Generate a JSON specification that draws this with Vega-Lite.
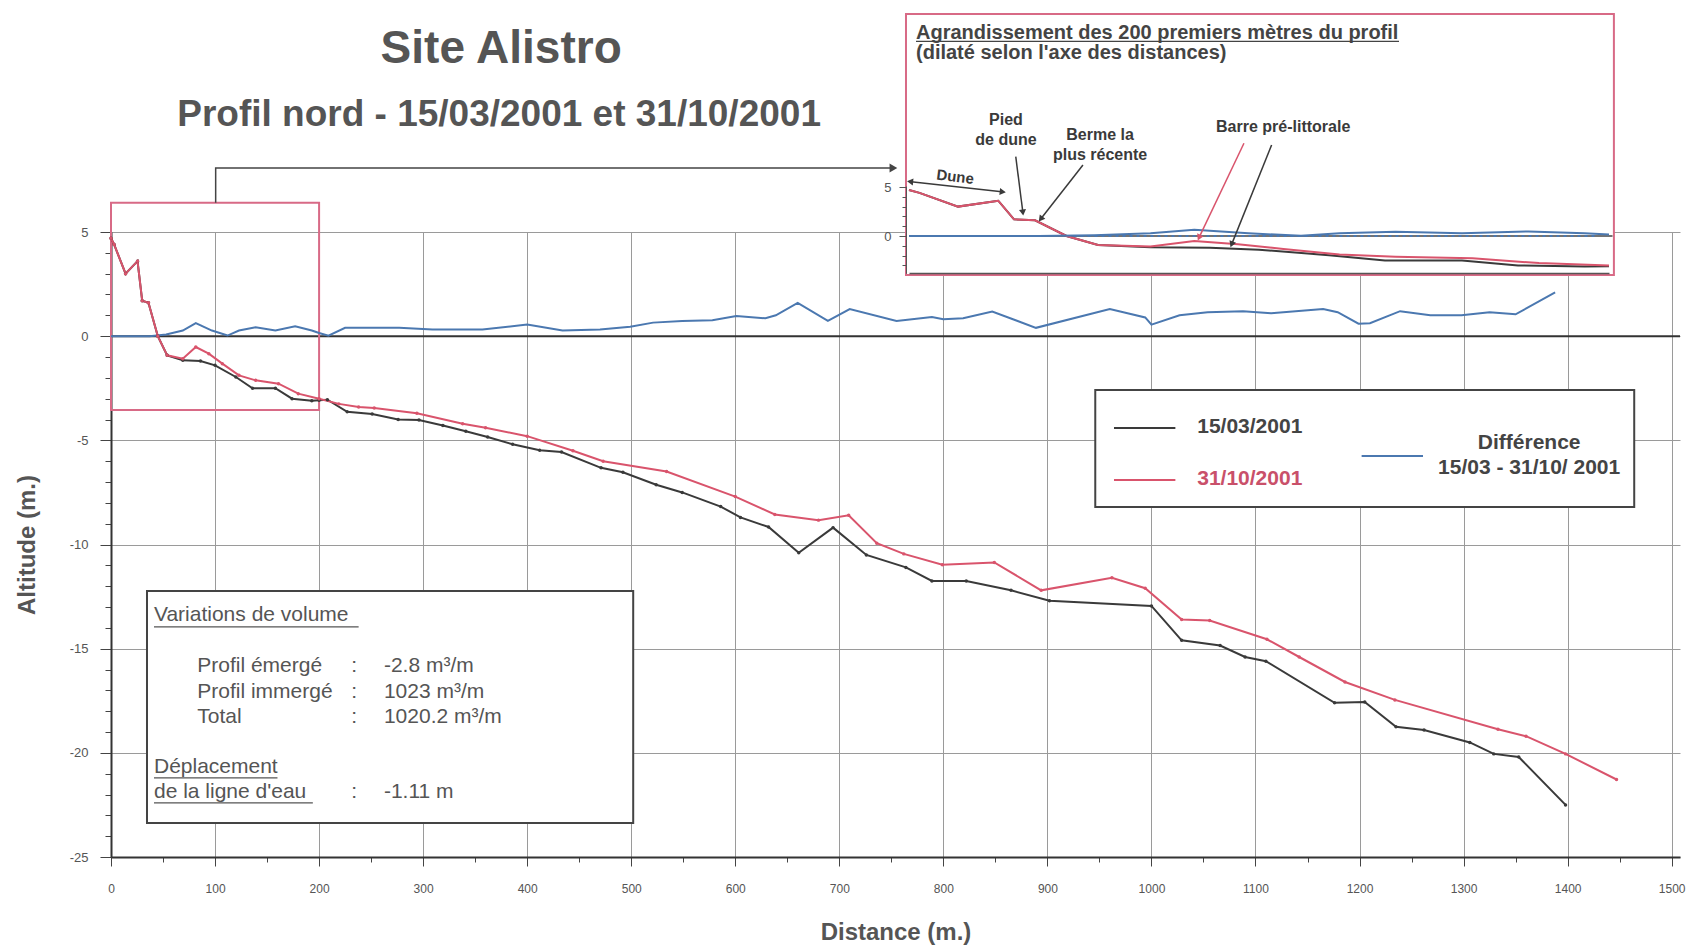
{
"$schema": "https://vega.github.io/schema/vega-lite/v6.json",
"width": 1569, "height": 625,
"autosize": "none",
"padding": {"left": 111, "top": 232, "right": 11, "bottom": 88},
"background": "white",
"config": {"font": "Liberation Sans", "view": {"stroke": null}, "axis": {"labelFont": "Liberation Sans", "titleFont": "Liberation Sans"}},
"datasets": {
"profile": [
{"serie":"15/03/2001","distance":0,"altitude":4.7},{"serie":"15/03/2001","distance":3,"altitude":4.4},{"serie":"15/03/2001","distance":14,"altitude":3.0},{"serie":"15/03/2001","distance":25.5,"altitude":3.6},{"serie":"15/03/2001","distance":30,"altitude":1.7},{"serie":"15/03/2001","distance":36,"altitude":1.6},{"serie":"15/03/2001","distance":45,"altitude":0.0},{"serie":"15/03/2001","distance":54,"altitude":-0.92},{"serie":"15/03/2001","distance":69,"altitude":-1.16},{"serie":"15/03/2001","distance":86,"altitude":-1.19},{"serie":"15/03/2001","distance":100,"altitude":-1.4},{"serie":"15/03/2001","distance":120,"altitude":-1.96},{"serie":"15/03/2001","distance":136,"altitude":-2.5},{"serie":"15/03/2001","distance":158,"altitude":-2.5},{"serie":"15/03/2001","distance":174,"altitude":-3.0},{"serie":"15/03/2001","distance":193,"altitude":-3.1},{"serie":"15/03/2001","distance":200,"altitude":-3.08},{"serie":"15/03/2001","distance":208,"altitude":-3.05},{"serie":"15/03/2001","distance":227,"altitude":-3.63},{"serie":"15/03/2001","distance":251,"altitude":-3.74},{"serie":"15/03/2001","distance":276,"altitude":-4.0},{"serie":"15/03/2001","distance":296,"altitude":-4.02},{"serie":"15/03/2001","distance":319,"altitude":-4.29},{"serie":"15/03/2001","distance":341,"altitude":-4.56},{"serie":"15/03/2001","distance":362,"altitude":-4.84},{"serie":"15/03/2001","distance":386,"altitude":-5.19},{"serie":"15/03/2001","distance":412,"altitude":-5.48},{"serie":"15/03/2001","distance":433,"altitude":-5.56},{"serie":"15/03/2001","distance":471,"altitude":-6.32},{"serie":"15/03/2001","distance":492,"altitude":-6.53},{"serie":"15/03/2001","distance":524,"altitude":-7.13},{"serie":"15/03/2001","distance":549,"altitude":-7.5},{"serie":"15/03/2001","distance":586,"altitude":-8.18},{"serie":"15/03/2001","distance":605,"altitude":-8.7},{"serie":"15/03/2001","distance":632,"altitude":-9.16},{"serie":"15/03/2001","distance":661,"altitude":-10.4},{"serie":"15/03/2001","distance":694,"altitude":-9.19},{"serie":"15/03/2001","distance":726,"altitude":-10.5},{"serie":"15/03/2001","distance":764,"altitude":-11.1},{"serie":"15/03/2001","distance":789,"altitude":-11.75},{"serie":"15/03/2001","distance":822,"altitude":-11.75},{"serie":"15/03/2001","distance":865,"altitude":-12.2},{"serie":"15/03/2001","distance":902,"altitude":-12.7},{"serie":"15/03/2001","distance":1000,"altitude":-12.95},{"serie":"15/03/2001","distance":1029,"altitude":-14.6},{"serie":"15/03/2001","distance":1066,"altitude":-14.85},{"serie":"15/03/2001","distance":1090,"altitude":-15.4},{"serie":"15/03/2001","distance":1110,"altitude":-15.6},{"serie":"15/03/2001","distance":1176,"altitude":-17.6},{"serie":"15/03/2001","distance":1205,"altitude":-17.56},{"serie":"15/03/2001","distance":1235,"altitude":-18.75},{"serie":"15/03/2001","distance":1262,"altitude":-18.9},{"serie":"15/03/2001","distance":1306,"altitude":-19.5},{"serie":"15/03/2001","distance":1329,"altitude":-20.05},{"serie":"15/03/2001","distance":1353,"altitude":-20.2},{"serie":"15/03/2001","distance":1398,"altitude":-22.5},
{"serie":"31/10/2001","distance":0,"altitude":4.7},{"serie":"31/10/2001","distance":3,"altitude":4.4},{"serie":"31/10/2001","distance":14,"altitude":3.0},{"serie":"31/10/2001","distance":25.5,"altitude":3.6},{"serie":"31/10/2001","distance":30,"altitude":1.7},{"serie":"31/10/2001","distance":36,"altitude":1.6},{"serie":"31/10/2001","distance":45,"altitude":0.0},{"serie":"31/10/2001","distance":54,"altitude":-0.92},{"serie":"31/10/2001","distance":69,"altitude":-1.08},{"serie":"31/10/2001","distance":81.5,"altitude":-0.52},{"serie":"31/10/2001","distance":94,"altitude":-0.84},{"serie":"31/10/2001","distance":107,"altitude":-1.32},{"serie":"31/10/2001","distance":123,"altitude":-1.88},{"serie":"31/10/2001","distance":139,"altitude":-2.12},{"serie":"31/10/2001","distance":161,"altitude":-2.28},{"serie":"31/10/2001","distance":180,"altitude":-2.76},{"serie":"31/10/2001","distance":200,"altitude":-3.0},{"serie":"31/10/2001","distance":219,"altitude":-3.25},{"serie":"31/10/2001","distance":238,"altitude":-3.4},{"serie":"31/10/2001","distance":253,"altitude":-3.45},{"serie":"31/10/2001","distance":294,"altitude":-3.7},{"serie":"31/10/2001","distance":338,"altitude":-4.2},{"serie":"31/10/2001","distance":360,"altitude":-4.4},{"serie":"31/10/2001","distance":400,"altitude":-4.8},{"serie":"31/10/2001","distance":444,"altitude":-5.5},{"serie":"31/10/2001","distance":473,"altitude":-6.0},{"serie":"31/10/2001","distance":534,"altitude":-6.5},{"serie":"31/10/2001","distance":600,"altitude":-7.7},{"serie":"31/10/2001","distance":638,"altitude":-8.56},{"serie":"31/10/2001","distance":680,"altitude":-8.83},{"serie":"31/10/2001","distance":709,"altitude":-8.6},{"serie":"31/10/2001","distance":736,"altitude":-9.94},{"serie":"31/10/2001","distance":762,"altitude":-10.45},{"serie":"31/10/2001","distance":799,"altitude":-10.97},{"serie":"31/10/2001","distance":849,"altitude":-10.86},{"serie":"31/10/2001","distance":894,"altitude":-12.2},{"serie":"31/10/2001","distance":962,"altitude":-11.6},{"serie":"31/10/2001","distance":994,"altitude":-12.1},{"serie":"31/10/2001","distance":1029,"altitude":-13.6},{"serie":"31/10/2001","distance":1056,"altitude":-13.65},{"serie":"31/10/2001","distance":1111,"altitude":-14.55},{"serie":"31/10/2001","distance":1142,"altitude":-15.4},{"serie":"31/10/2001","distance":1186,"altitude":-16.6},{"serie":"31/10/2001","distance":1234,"altitude":-17.46},{"serie":"31/10/2001","distance":1333,"altitude":-18.87},{"serie":"31/10/2001","distance":1360,"altitude":-19.2},{"serie":"31/10/2001","distance":1398,"altitude":-20.05},{"serie":"31/10/2001","distance":1447,"altitude":-21.28},
{"serie":"Différence","distance":0,"altitude":0},{"serie":"Différence","distance":37,"altitude":0},{"serie":"Différence","distance":53,"altitude":0.08},{"serie":"Différence","distance":69,"altitude":0.27},{"serie":"Différence","distance":81.5,"altitude":0.63},{"serie":"Différence","distance":97,"altitude":0.27},{"serie":"Différence","distance":112,"altitude":0.03},{"serie":"Différence","distance":123,"altitude":0.27},{"serie":"Différence","distance":139,"altitude":0.43},{"serie":"Différence","distance":158,"altitude":0.27},{"serie":"Différence","distance":177,"altitude":0.47},{"serie":"Différence","distance":193,"altitude":0.27},{"serie":"Différence","distance":200,"altitude":0.15},{"serie":"Différence","distance":209,"altitude":0.02},{"serie":"Différence","distance":225,"altitude":0.4},{"serie":"Différence","distance":238,"altitude":0.4},{"serie":"Différence","distance":277,"altitude":0.4},{"serie":"Différence","distance":309,"altitude":0.32},{"serie":"Différence","distance":357,"altitude":0.32},{"serie":"Différence","distance":400,"altitude":0.56},{"serie":"Différence","distance":434,"altitude":0.27},{"serie":"Différence","distance":470,"altitude":0.32},{"serie":"Différence","distance":499,"altitude":0.45},{"serie":"Différence","distance":521,"altitude":0.65},{"serie":"Différence","distance":549,"altitude":0.73},{"serie":"Différence","distance":578,"altitude":0.76},{"serie":"Différence","distance":601,"altitude":0.97},{"serie":"Différence","distance":629,"altitude":0.86},{"serie":"Différence","distance":639,"altitude":1.0},{"serie":"Différence","distance":660,"altitude":1.6},{"serie":"Différence","distance":689,"altitude":0.73},{"serie":"Différence","distance":710,"altitude":1.3},{"serie":"Différence","distance":755,"altitude":0.73},{"serie":"Différence","distance":789,"altitude":0.92},{"serie":"Différence","distance":800,"altitude":0.81},{"serie":"Différence","distance":819,"altitude":0.86},{"serie":"Différence","distance":847,"altitude":1.18},{"serie":"Différence","distance":889,"altitude":0.4},{"serie":"Différence","distance":960,"altitude":1.3},{"serie":"Différence","distance":994,"altitude":0.9},{"serie":"Différence","distance":1000,"altitude":0.55},{"serie":"Différence","distance":1027,"altitude":1.0},{"serie":"Différence","distance":1054,"altitude":1.15},{"serie":"Différence","distance":1088,"altitude":1.2},{"serie":"Différence","distance":1115,"altitude":1.1},{"serie":"Différence","distance":1165,"altitude":1.3},{"serie":"Différence","distance":1179,"altitude":1.15},{"serie":"Différence","distance":1199,"altitude":0.6},{"serie":"Différence","distance":1210,"altitude":0.62},{"serie":"Différence","distance":1239,"altitude":1.2},{"serie":"Différence","distance":1268,"altitude":1.0},{"serie":"Différence","distance":1298,"altitude":1.0},{"serie":"Différence","distance":1325,"altitude":1.15},{"serie":"Différence","distance":1350,"altitude":1.05},{"serie":"Différence","distance":1388,"altitude":2.1}
]
},
"layer": [
{
"encoding": {
"x": {"field": "distance", "type": "quantitative", "scale": {"domain": [0, 1508], "nice": false, "zero": false},
 "axis": {"values": [0,50,100,150,200,250,300,350,400,450,500,550,600,650,700,750,800,850,900,950,1000,1050,1100,1150,1200,1250,1300,1350,1400,1450,1500],
  "labelExpr": "datum.value % 100 === 0 ? '' + datum.value : ''", "labelOverlap": false, "labelFlush": false,
  "grid": true, "gridColor": "#9a9a9a", "gridWidth": 1,
  "gridOpacity": {"condition": {"test": "datum.value % 100 === 0", "value": 1}, "value": 0},
  "tickSize": {"condition": {"test": "datum.value % 100 === 0", "value": 9}, "value": 5},
  "tickColor": "#444", "domainColor": "#333", "domainWidth": 2, "labelFontSize": 12, "labelColor": "#555", "labelPadding": 17,
  "title": "Distance (m.)", "titleFontSize": 24, "titleFontWeight": "bold", "titleColor": "#555", "titlePadding": 26}},
"y": {"field": "altitude", "type": "quantitative", "scale": {"domain": [-25, 5], "nice": false, "zero": false},
 "axis": {"values": [-25,-24,-23,-22,-21,-20,-19,-18,-17,-16,-15,-14,-13,-12,-11,-10,-9,-8,-7,-6,-5,-4,-3,-2,-1,0,1,2,3,4,5],
  "labelExpr": "datum.value % 5 === 0 ? '' + datum.value : ''", "labelOverlap": false, "labelFlush": false,
  "grid": true, "gridColor": "#9a9a9a", "gridWidth": 1,
  "gridOpacity": {"condition": {"test": "datum.value % 5 === 0", "value": 1}, "value": 0},
  "tickSize": {"condition": {"test": "datum.value % 5 === 0", "value": 11}, "value": 6},
  "tickColor": "#444", "domainColor": "#333", "domainWidth": 2, "labelFontSize": 13, "labelColor": "#555", "labelPadding": 12,
  "title": "Altitude (m.)", "titleFontSize": 24, "titleFontWeight": "bold", "titleColor": "#555", "titlePadding": 30}}
},
"layer": [
{"data": {"values": [{"distance": 375, "altitude": 13.11, "label": "Site Alistro"}]},
 "mark": {"type": "text", "fontSize": 46, "fontWeight": "bold", "color": "#555", "align": "center", "baseline": "alphabetic"},
 "encoding": {"text": {"field": "label"}}},
{"data": {"values": [{"distance": 373, "altitude": 10.09, "label": "Profil nord - 15/03/2001 et 31/10/2001"}]},
 "mark": {"type": "text", "fontSize": 37, "fontWeight": "bold", "color": "#555", "align": "center", "baseline": "alphabetic"},
 "encoding": {"text": {"field": "label"}}},
{"data": {"values": [{"distance": 0, "distance2": 1508, "altitude": 0}]},
 "mark": {"type": "rule", "color": "#333", "strokeWidth": 2},
 "encoding": {"x2": {"field": "distance2"}}},
{"data": {"values": [{"distance": 0, "distance2": 200, "altitude": -3.54, "altitude2": 6.41}]},
 "mark": {"type": "rect", "filled": false, "stroke": "#d86a86", "strokeWidth": 2},
 "encoding": {"x2": {"field": "distance2"}, "y2": {"field": "altitude2"}}},
{"data": {"values": [{"distance": 100.6, "altitude": 6.41, "step": 1}, {"distance": 100.6, "altitude": 8.07, "step": 2}, {"distance": 750, "altitude": 8.07, "step": 3}]},
 "mark": {"type": "line", "color": "#444", "strokeWidth": 1.5},
 "encoding": {"order": {"field": "step"}}},
{"data": {"values": [{"distance": 752, "altitude": 8.07}]},
 "mark": {"type": "point", "shape": "triangle-right", "filled": true, "size": 80, "color": "#444", "opacity": 1}},
{"data": {"name": "profile"},
 "transform": [{"filter": "datum.serie === 'Différence'"}],
 "mark": {"type": "line", "strokeWidth": 2},
 "encoding": {"color": {"field": "serie", "type": "nominal", "scale": {"domain": ["15/03/2001", "31/10/2001", "Différence"], "range": ["#3a3a3a", "#d9546c", "#4b78b0"]}, "legend": null}}},
{"data": {"name": "profile"},
 "transform": [{"filter": "datum.serie !== 'Différence'"}],
 "mark": {"type": "line", "strokeWidth": 2, "point": {"filled": true, "size": 12}},
 "encoding": {"color": {"field": "serie", "type": "nominal", "legend": null}}},
{"data": {"values": [{"distance": 946, "distance2": 1464, "altitude": -2.585, "altitude2": -8.2}]},
 "mark": {"type": "rect", "fill": "white", "stroke": "#444", "strokeWidth": 2},
 "encoding": {"x2": {"field": "distance2"}, "y2": {"field": "altitude2"}}},
{"data": {"values": [{"serie": "15/03/2001", "distance": 964, "distance2": 1023, "altitude": -4.41}, {"serie": "31/10/2001", "distance": 964, "distance2": 1023, "altitude": -6.9}, {"serie": "Différence", "distance": 1202, "distance2": 1261, "altitude": -5.75}]},
 "mark": {"type": "rule", "strokeWidth": 2},
 "encoding": {"x2": {"field": "distance2"}, "color": {"field": "serie", "type": "nominal", "legend": null}}},
{"data": {"values": [{"distance": 1044, "altitude": -4.35, "label": "15/03/2001"}]},
 "mark": {"type": "text", "fontSize": 21, "fontWeight": "bold", "color": "#444", "align": "left", "baseline": "middle"},
 "encoding": {"text": {"field": "label"}}},
{"data": {"values": [{"distance": 1044, "altitude": -6.85, "label": "31/10/2001"}]},
 "mark": {"type": "text", "fontSize": 21, "fontWeight": "bold", "color": "#c9506a", "align": "left", "baseline": "middle"},
 "encoding": {"text": {"field": "label"}}},
{"data": {"values": [{"distance": 1363, "altitude": -5.13, "label": "Différence"}, {"distance": 1363, "altitude": -6.33, "label": "15/03 - 31/10/ 2001"}]},
 "mark": {"type": "text", "fontSize": 21, "fontWeight": "bold", "color": "#444", "align": "center", "baseline": "middle"},
 "encoding": {"text": {"field": "label"}}},
{"data": {"values": [{"distance": 34.6, "distance2": 501.9, "altitude": -12.23, "altitude2": -23.37}]},
 "mark": {"type": "rect", "fill": "white", "stroke": "#444", "strokeWidth": 2},
 "encoding": {"x2": {"field": "distance2"}, "y2": {"field": "altitude2"}}},
{"data": {"values": [
 {"distance": 41.3, "altitude": -13.4, "label": "Variations de volume"},
 {"distance": 82.9, "altitude": -15.85, "label": "Profil émergé"},
 {"distance": 231, "altitude": -15.85, "label": ":"},
 {"distance": 262.3, "altitude": -15.85, "label": "-2.8 m³/m"},
 {"distance": 82.9, "altitude": -17.07, "label": "Profil immergé"},
 {"distance": 231, "altitude": -17.07, "label": ":"},
 {"distance": 262.3, "altitude": -17.07, "label": "1023 m³/m"},
 {"distance": 82.9, "altitude": -18.27, "label": "Total"},
 {"distance": 231, "altitude": -18.27, "label": ":"},
 {"distance": 262.3, "altitude": -18.27, "label": "1020.2 m³/m"},
 {"distance": 41.3, "altitude": -20.7, "label": "Déplacement"},
 {"distance": 41.3, "altitude": -21.9, "label": "de la ligne d'eau"},
 {"distance": 231, "altitude": -21.9, "label": ":"},
 {"distance": 262.3, "altitude": -21.9, "label": "-1.11 m"}]},
 "mark": {"type": "text", "fontSize": 21, "color": "#555", "align": "left", "baseline": "middle"},
 "encoding": {"text": {"field": "label"}}},
{"data": {"values": [{"distance": 41.3, "distance2": 238, "altitude": -13.95}, {"distance": 41.3, "distance2": 160, "altitude": -21.2}, {"distance": 41.3, "distance2": 194, "altitude": -22.4}]},
 "mark": {"type": "rule", "color": "#555", "strokeWidth": 1.3},
 "encoding": {"x2": {"field": "distance2"}}}
]
},
{
"encoding": {
"x": {"field": "distance", "type": "quantitative", "scale": {"domain": [0, 200], "range": [798, 1498], "nice": false, "zero": false},
 "axis": {"orient": "bottom", "offset": -584, "ticks": false, "labels": false, "grid": false, "title": null, "domainColor": "#555", "domainWidth": 1.5, "zindex": 1}},
"y": {"field": "altitude", "type": "quantitative", "scale": {"domain": [-3.8, 5.1], "range": [41.24, -45.98], "nice": false, "zero": false},
 "axis": {"orient": "left", "offset": -795, "values": [-3,-2,-1,0,1,2,3,4,5], "labelExpr": "datum.value === 5 || datum.value === 0 ? '' + datum.value : ''",
  "labelOverlap": false, "labelFlush": false, "grid": false, "title": null,
  "tickSize": {"condition": {"test": "datum.value % 5 === 0", "value": 7}, "value": 4},
  "tickColor": "#555", "domainColor": "#555", "labelFontSize": 13, "labelColor": "#555", "labelPadding": 8, "zindex": 1}}
},
"layer": [
{"data": {"values": [{"distance": -0.86, "distance2": 201.4, "altitude": -3.98, "altitude2": 22.65}]},
 "mark": {"type": "rect", "fill": "white", "stroke": "#d86a86", "strokeWidth": 2},
 "encoding": {"x2": {"field": "distance2"}, "y2": {"field": "altitude2"}}},
{"data": {"values": [{"distance": 0, "distance2": 201, "altitude": 0}]},
 "mark": {"type": "rule", "color": "#444", "strokeWidth": 1.5},
 "encoding": {"x2": {"field": "distance2"}}},
{"data": {"values": [{"distance": 45, "distance2": 197, "altitude": 0}]},
 "mark": {"type": "rule", "color": "#4b78b0", "strokeWidth": 2, "strokeDash": [3, 4]},
 "encoding": {"x2": {"field": "distance2"}}},
{"data": {"name": "profile"},
 "transform": [{"filter": "datum.distance <= 200"}],
 "mark": {"type": "line", "strokeWidth": 2},
 "encoding": {"color": {"field": "serie", "type": "nominal", "legend": null}}},
{"data": {"values": [{"distance": 2, "altitude": 20.7, "label": "Agrandissement des 200 premiers mètres du profil"}, {"distance": 2, "altitude": 18.7, "label": "(dilaté selon l'axe des distances)"}]},
 "mark": {"type": "text", "fontSize": 20, "fontWeight": "bold", "color": "#444", "align": "left", "baseline": "middle"},
 "encoding": {"text": {"field": "label"}}},
{"data": {"values": [{"distance": 2, "distance2": 140, "altitude": 19.85}]},
 "mark": {"type": "rule", "color": "#444", "strokeWidth": 1.3},
 "encoding": {"x2": {"field": "distance2"}}},
{"data": {"values": [
 {"distance": 27.7, "altitude": 11.8, "label": "Pied"},
 {"distance": 27.7, "altitude": 9.8, "label": "de dune"},
 {"distance": 54.6, "altitude": 10.3, "label": "Berme la"},
 {"distance": 54.6, "altitude": 8.27, "label": "plus récente"},
 {"distance": 106.9, "altitude": 11.1, "label": "Barre pré-littorale"}]},
 "mark": {"type": "text", "fontSize": 16, "fontWeight": "bold", "color": "#3a3a3a", "align": "center", "baseline": "middle"},
 "encoding": {"text": {"field": "label"}}},
{"data": {"values": [{"distance": 13.2, "altitude": 6.05, "label": "Dune"}]},
 "mark": {"type": "text", "fontSize": 15, "fontWeight": "bold", "color": "#3a3a3a", "align": "center", "baseline": "middle", "angle": 7},
 "encoding": {"text": {"field": "label"}}},
{"data": {"values": [
 {"distance": 30.5, "altitude": 8.1, "distance2": 32.5, "altitude2": 2.5},
 {"distance": 49.7, "altitude": 7.24, "distance2": 37.8, "altitude2": 1.81},
 {"distance": 103.6, "altitude": 9.28, "distance2": 92.3, "altitude2": -0.75},
 {"distance": 0.6, "altitude": 5.54, "distance2": 26.5, "altitude2": 4.52}]},
 "mark": {"type": "rule", "color": "#3a3a3a", "strokeWidth": 1.5},
 "encoding": {"x2": {"field": "distance2"}, "y2": {"field": "altitude2"}}},
{"data": {"values": [{"distance": 95.7, "altitude": 9.46, "distance2": 83.0, "altitude2": -0.07}]},
 "mark": {"type": "rule", "color": "#d9546c", "strokeWidth": 1.5},
 "encoding": {"x2": {"field": "distance2"}, "y2": {"field": "altitude2"}}},
{"data": {"values": [{"distance": 32.5, "altitude": 2.5}]},
 "mark": {"type": "point", "shape": "triangle", "filled": true, "size": 50, "color": "#3a3a3a", "opacity": 1, "angle": 173}},
{"data": {"values": [{"distance": 37.8, "altitude": 1.81}]},
 "mark": {"type": "point", "shape": "triangle", "filled": true, "size": 50, "color": "#3a3a3a", "opacity": 1, "angle": 218}},
{"data": {"values": [{"distance": 92.3, "altitude": -0.75}]},
 "mark": {"type": "point", "shape": "triangle", "filled": true, "size": 50, "color": "#3a3a3a", "opacity": 1, "angle": 202}},
{"data": {"values": [{"distance": 83.0, "altitude": -0.07}]},
 "mark": {"type": "point", "shape": "triangle", "filled": true, "size": 50, "color": "#d9546c", "opacity": 1, "angle": 205}},
{"data": {"values": [{"distance": 26.5, "altitude": 4.52}]},
 "mark": {"type": "point", "shape": "triangle", "filled": true, "size": 50, "color": "#3a3a3a", "opacity": 1, "angle": 96}},
{"data": {"values": [{"distance": 0.6, "altitude": 5.54}]},
 "mark": {"type": "point", "shape": "triangle", "filled": true, "size": 50, "color": "#3a3a3a", "opacity": 1, "angle": 276}}
]
}
],
"resolve": {"scale": {"x": "independent", "y": "independent"}, "axis": {"x": "independent", "y": "independent"}}
}
